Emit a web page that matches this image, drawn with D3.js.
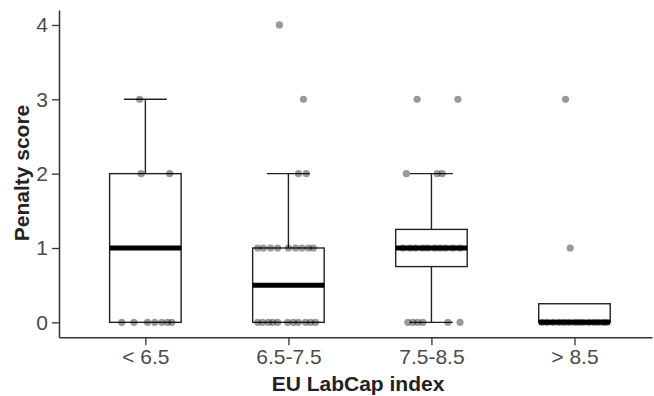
<!DOCTYPE html>
<html>
<head>
<meta charset="utf-8">
<script src="https://cdn.jsdelivr.net/npm/d3@7"></script>
<style>
  body { margin: 0; background: #fff; }
  svg text { font-family: "Liberation Sans", Arial, sans-serif; }
</style>
</head>
<body>
<div id="chart"></div>
<script>
// categories on the x axis
const categories = ["< 6.5", "6.5-7.5", "7.5-8.5", "> 8.5"];
// box stats: [whiskerLow, q1, median, q3, whiskerHigh]
const boxStats = [
  [0, 0, 1, 2, 3],
  [0, 0, 0.5, 1, 2],
  [0, 0.75, 1, 1.25, 2],
  [0, 0, 0, 0.25, 0.25]
];
// individual observations: [value, jitter as fraction of box width]
const points1 = [[0,-0.33],[0,-0.16],[0,0.03],[0,0.13],[0,0.23],[0,0.31],[0,0.37],
  [2,-0.06],[2,0.34],[3,-0.08]];
const points2 = [[0,-0.43],[0,-0.36],[0,-0.28],[0,-0.22],[0,-0.15],[0,-0.01],[0,0.07],[0,0.14],[0,0.24],[0,0.31],[0,0.38],
  [1,-0.43],[1,-0.35],[1,-0.25],[1,-0.15],[1,0],[1,0.1],[1,0.19],[1,0.28],[1,0.35],
  [2,0.14],[2,0.25],[3,0.21],[4,-0.125]];
const points3 = [[0,-0.33],[0,-0.26],[0,-0.19],[0,-0.12],[0,0.23],[0,0.4],
  [1,-0.4],[1,-0.3],[1,-0.22],[1,-0.12],[1,-0.05],[1,0.05],[1,0.12],[1,0.2],[1,0.3],[1,0.4],
  [2,-0.35],[2,0.08],[2,0.15],[3,-0.2],[3,0.37]];
const points4 = [[0,-0.45],[0,-0.38],[0,-0.3],[0,-0.22],[0,-0.15],[0,-0.08],[0,0],[0,0.06],[0,0.12],[0,0.2],[0,0.27],[0,0.33],[0,0.4],[0,0.45],
  [1,-0.06],[3,-0.125]];
const pointSets = [points1, points2, points3, points4];
const yTicks = [0, 1, 2, 3, 4];

const width = 654, height = 396;

const svg = d3.select("#chart").append("svg")
  .attr("width", width)
  .attr("height", height);

const x = d3.scalePoint()
  .domain(categories)
  .range([59, 652])
  .padding(0.573)
  .align(0.527);

const y = d3.scaleLinear()
  .domain([-0.2, 4.2])
  .range([337.2, 10.1]);

const boxW = x.step() * 0.5;
const capW = boxW * 0.6;

// y axis
const yAxis = svg.append("g")
  .attr("transform", "translate(59,0)")
  .call(d3.axisLeft(y).tickValues(yTicks).tickFormat(d3.format("d")).tickSize(7).tickSizeOuter(0).tickPadding(4));
yAxis.select(".domain").attr("stroke", "#333").attr("stroke-width", 1.5);
yAxis.selectAll(".tick line").attr("stroke", "#333").attr("stroke-width", 1.3);
yAxis.selectAll(".tick text").attr("font-size", 21).attr("fill", "#4a4a4a");

// x axis
const xAxis = svg.append("g")
  .attr("transform", "translate(0,337.2)")
  .call(d3.axisBottom(x).tickSize(8).tickSizeOuter(0).tickPadding(4));
xAxis.select(".domain").attr("stroke", "#333").attr("stroke-width", 1.5);
xAxis.selectAll(".tick line").attr("stroke", "#333").attr("stroke-width", 1.3);
xAxis.selectAll(".tick text").attr("font-size", 21).attr("fill", "#4a4a4a");

// boxes
const boxes = svg.append("g").selectAll("g")
  .data(boxStats)
  .join("g")
  .attr("transform", (d, i) => "translate(" + x(categories[i]) + ",0)");

boxes.each(function (d) {
  const g = d3.select(this);
  const [lo, q1, med, q3, hi] = d;
  if (hi > q3) {
    g.append("line").attr("x1", 0).attr("x2", 0).attr("y1", y(q3)).attr("y2", y(hi))
      .attr("stroke", "#222").attr("stroke-width", 1.4);
    g.append("line").attr("x1", -capW / 2).attr("x2", capW / 2).attr("y1", y(hi)).attr("y2", y(hi))
      .attr("stroke", "#222").attr("stroke-width", 1.4);
  }
  if (lo < q1) {
    g.append("line").attr("x1", 0).attr("x2", 0).attr("y1", y(q1)).attr("y2", y(lo))
      .attr("stroke", "#222").attr("stroke-width", 1.4);
    g.append("line").attr("x1", -capW / 2).attr("x2", capW / 2).attr("y1", y(lo)).attr("y2", y(lo))
      .attr("stroke", "#222").attr("stroke-width", 1.4);
  }
  g.append("rect")
    .attr("x", -boxW / 2).attr("width", boxW)
    .attr("y", y(q3)).attr("height", y(q1) - y(q3))
    .attr("fill", "#fff").attr("stroke", "#222").attr("stroke-width", 1.4);
  g.append("line").attr("x1", -boxW / 2).attr("x2", boxW / 2).attr("y1", y(med)).attr("y2", y(med))
    .attr("stroke", "#000").attr("stroke-width", 5);
});

// points
pointSets.forEach((pts, i) => {
  svg.append("g").selectAll("circle")
    .data(pts)
    .join("circle")
    .attr("cx", d => x(categories[i]) + d[1] * boxW)
    .attr("cy", d => y(d[0]))
    .attr("r", 3.6)
    .attr("fill", "#000")
    .attr("fill-opacity", 0.4);
});

// axis titles
svg.append("text")
  .attr("x", 358).attr("y", 391)
  .attr("text-anchor", "middle")
  .attr("font-size", 21).attr("font-weight", "bold").attr("fill", "#222")
  .text("EU LabCap index");

svg.append("text")
  .attr("transform", "translate(29,173) rotate(-90)")
  .attr("text-anchor", "middle")
  .attr("font-size", 21).attr("font-weight", "bold").attr("fill", "#222")
  .text("Penalty score");
</script>
</body>
</html>
